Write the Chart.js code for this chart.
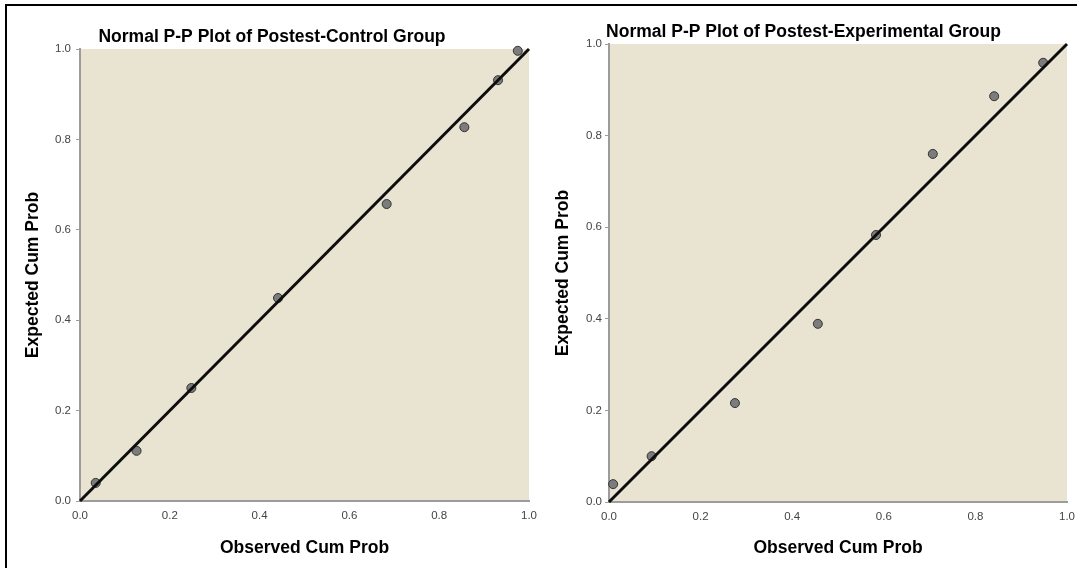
<!DOCTYPE html>
<html>
<head>
<meta charset="utf-8">
<title>Normal P-P Plots of Postest Scores</title>
<script src="https://cdn.jsdelivr.net/npm/chart.js@4/dist/chart.umd.min.js"></script>
<style>
  html, body { margin: 0; padding: 0; background: #ffffff; width: 1084px; height: 568px; overflow: hidden; }
  #frame { position: absolute; left: 5px; top: 4px; width: 1070px; height: 600px;
           border-top: 2px solid #000; border-left: 2px solid #000; }
  .panel { position: absolute; top: 0; height: 568px; }
</style>
</head>
<body>
<div id="frame"></div>
<div class="panel" style="left:0; width:545px;"><canvas id="ppControl" width="545" height="568"></canvas></div>
<div class="panel" style="left:540px; width:544px;"><canvas id="ppExperimental" width="544" height="568"></canvas></div>

<script>
// Axis ticks shared by both plots
const tickValues = [0, 0.2, 0.4, 0.6, 0.8, 1.0];
const tickLabels = ['0.0', '0.2', '0.4', '0.6', '0.8', '1.0'];

// Diagonal reference line (expected = observed)
const referenceX = [0, 1];
const referenceY = [0, 1];

// Postest - Control group
const controlObserved = [0.035, 0.126, 0.248, 0.441, 0.683, 0.856, 0.931, 0.975];
const controlExpected = [0.040, 0.111, 0.250, 0.449, 0.657, 0.827, 0.931, 0.996];

// Postest - Experimental group
const experimentalObserved = [0.009, 0.093, 0.275, 0.456, 0.583, 0.707, 0.841, 0.948];
const experimentalExpected = [0.039, 0.100, 0.216, 0.389, 0.583, 0.760, 0.886, 0.959];

const FONT = '"Liberation Sans", Arial, Helvetica, sans-serif';
const PLOT_BG = '#E9E4D2';
const AXIS_GREY = '#9c9c9c';

const toPoints = (xs, ys) => xs.map((x, i) => ({ x: x, y: ys[i] }));

// Fills the plotting region with the beige panel colour
const plotBackground = {
  id: 'plotBackground',
  beforeDraw(chart) {
    const { ctx, chartArea: a } = chart;
    ctx.save();
    ctx.fillStyle = PLOT_BG;
    ctx.fillRect(a.left, a.top, a.right - a.left, a.bottom - a.top);
    ctx.restore();
  }
};

function fixedTicks(scale) {
  scale.ticks = tickValues.map(v => ({ value: v }));
}

function makePlot(canvasId, p) {
  return new Chart(document.getElementById(canvasId), {
    type: 'scatter',
    data: {
      datasets: [
        {
          label: 'Reference',
          data: toPoints(referenceX, referenceY),
          showLine: true,
          borderColor: '#0d0d0d',
          borderWidth: 3,
          pointRadius: 0,
          clip: false
        },
        {
          label: p.title,
          data: toPoints(p.observed, p.expected),
          showLine: false,
          pointRadius: 4.5,
          pointBackgroundColor: '#7c7c7c',
          pointBorderColor: '#333333',
          pointBorderWidth: 1,
          clip: false
        }
      ]
    },
    options: {
      responsive: false,
      animation: false,
      devicePixelRatio: 1,
      events: [],
      layout: { padding: { left: p.padLeft, right: p.padRight, top: 0, bottom: 0 } },
      plugins: {
        legend: { display: false },
        tooltip: { enabled: false },
        title: {
          display: true,
          text: p.title,
          color: '#000000',
          font: { family: FONT, size: 17.5, weight: 'bold', lineHeight: 1.2 },
          padding: { top: p.titlePadTop, bottom: 1.5 }
        }
      },
      scales: {
        x: {
          type: 'linear',
          min: 0,
          max: 1,
          afterBuildTicks: fixedTicks,
          afterFit: s => { s.height = p.xHeight; },
          grid: { display: false, drawTicks: false, tickLength: 0 },
          border: { display: true, color: AXIS_GREY, width: 2 },
          ticks: {
            padding: 8,
            color: '#444444',
            font: { family: FONT, size: 11.5 },
            maxRotation: 0,
            autoSkip: false,
            callback: (v, i) => tickLabels[i]
          },
          title: {
            display: true,
            text: 'Observed Cum Prob',
            color: '#000000',
            font: { family: FONT, size: 17.5, weight: 'bold', lineHeight: 1.2 },
            padding: { top: 0, bottom: 9.5 }
          }
        },
        y: {
          type: 'linear',
          min: 0,
          max: 1,
          afterBuildTicks: fixedTicks,
          afterFit: s => { s.width = p.yWidth; },
          grid: { display: true, drawOnChartArea: false, drawTicks: true, tickLength: 4, color: AXIS_GREY, lineWidth: 1 },
          border: { display: true, color: AXIS_GREY, width: 2 },
          ticks: {
            padding: p.yTickPad,
            color: '#444444',
            font: { family: FONT, size: 11.5 },
            autoSkip: false,
            callback: (v, i) => tickLabels[i]
          },
          title: {
            display: true,
            text: 'Expected Cum Prob',
            color: '#000000',
            font: { family: FONT, size: 17.5, weight: 'bold', lineHeight: 1.2 },
            padding: { top: p.yTitlePad, bottom: 0 }
          }
        }
      }
    },
    plugins: [plotBackground]
  });
}

makePlot('ppControl', {
  title: 'Normal P-P Plot of Postest-Control Group',
  observed: controlObserved,
  expected: controlExpected,
  padLeft: 13, padRight: 14,
  yWidth: 67, xHeight: 67,
  titlePadTop: 26.5, yTitlePad: 9.5, yTickPad: 5
});

makePlot('ppExperimental', {
  title: 'Normal P-P Plot of Postest-Experimental Group',
  observed: experimentalObserved,
  expected: experimentalExpected,
  padLeft: 0, padRight: 17,
  yWidth: 69, xHeight: 66,
  titlePadTop: 21.5, yTitlePad: 12.5, yTickPad: 3
});
</script>
</body>
</html>
